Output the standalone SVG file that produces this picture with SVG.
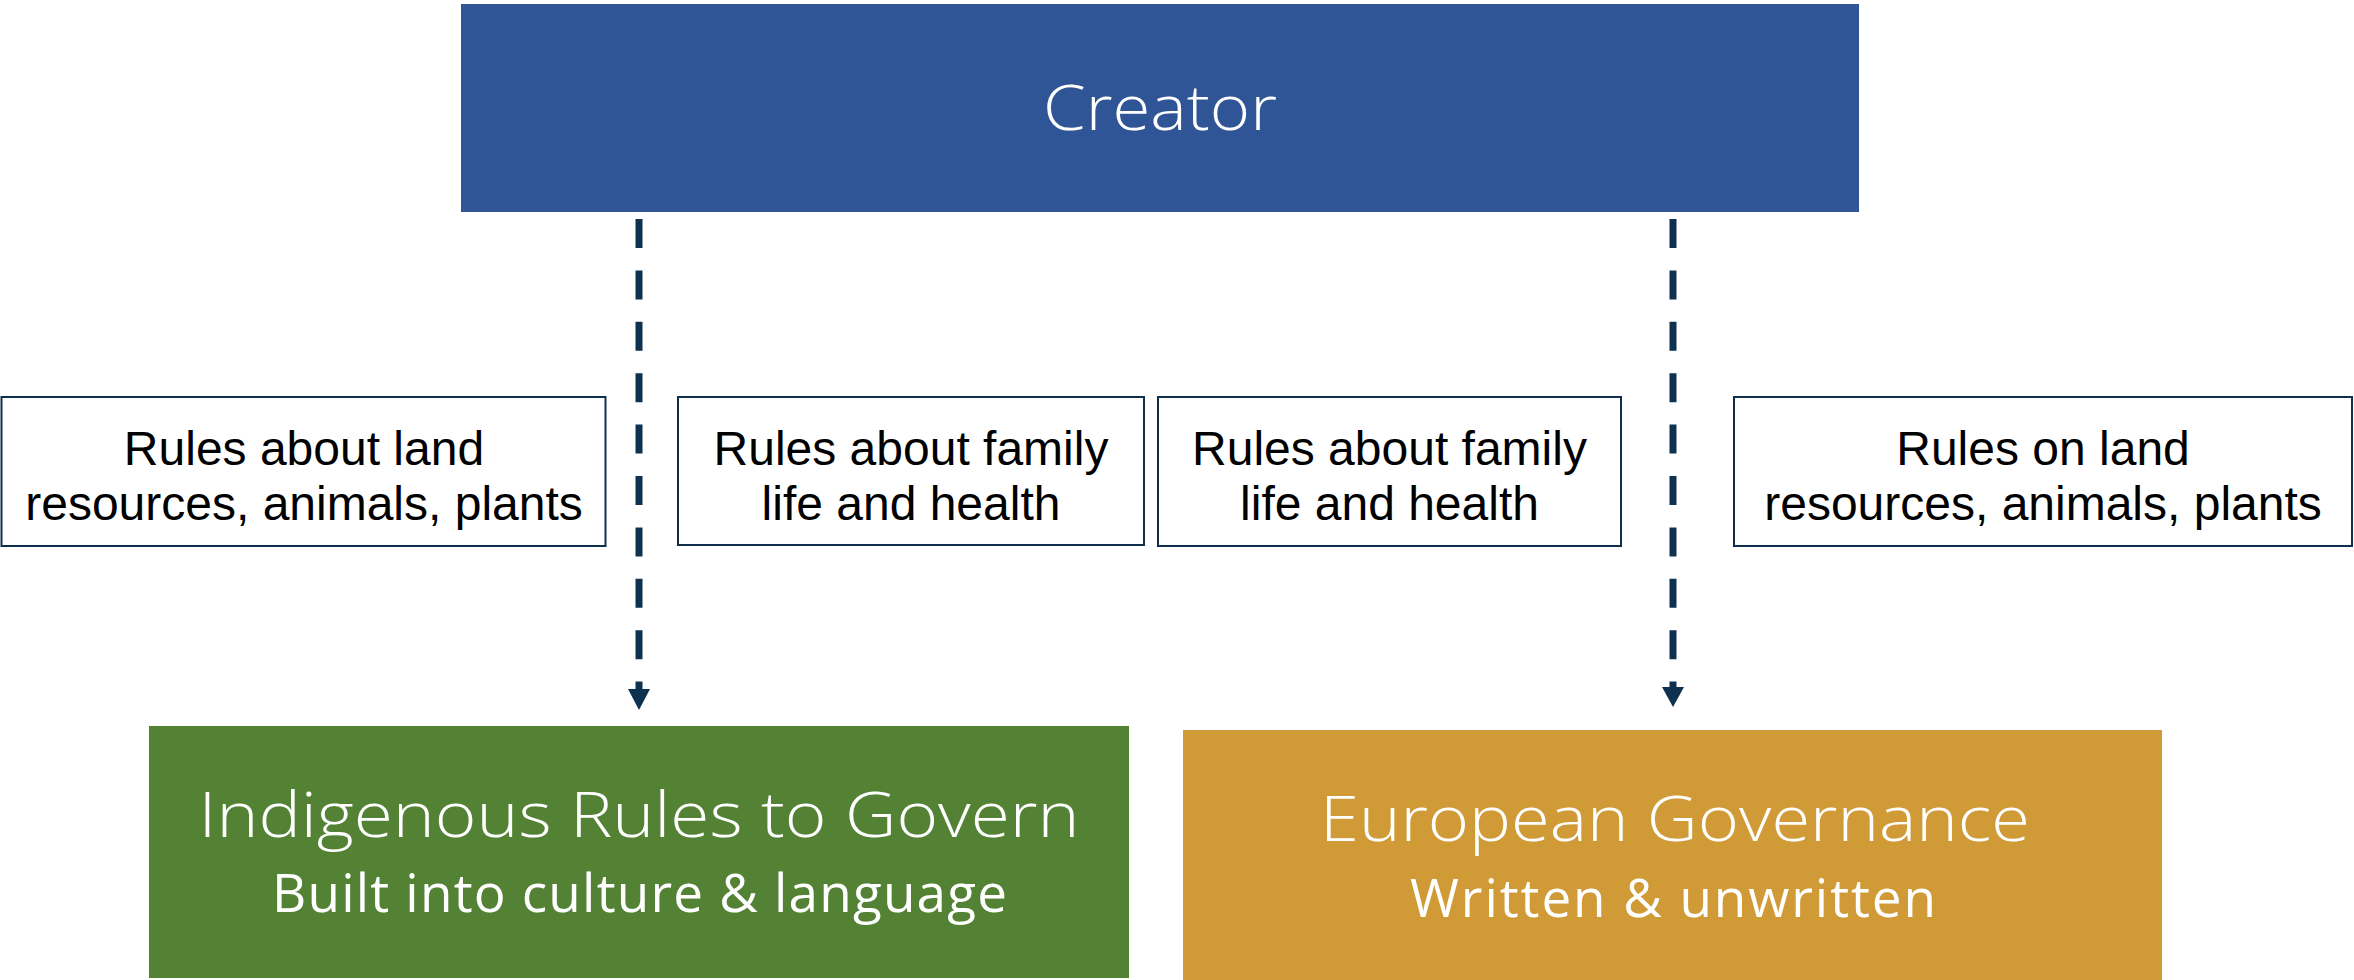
<svg xmlns="http://www.w3.org/2000/svg" width="2354" height="980" viewBox="0 0 2354 980">
<style>
.head{font-family:"Open Sans","Liberation Sans",sans-serif;font-weight:300;fill:#fff;text-anchor:middle}
.sub{font-family:"Open Sans","Liberation Sans",sans-serif;font-weight:400;fill:#fff;text-anchor:middle}
.rule{fill:#fff;stroke:#0f2f4f;stroke-width:2}
.rt{font-family:"Liberation Sans",Arial,sans-serif;font-size:48px;fill:#000;text-anchor:middle}
.dash{stroke:#0f3150;stroke-width:7;stroke-dasharray:29 22.4;fill:none}
.ah{fill:#0f3150}
</style>
<rect width="2354" height="980" fill="#fff"/>
<g id="creator">
<rect x="461" y="4" width="1398" height="208" fill="#2f5597"/>
<text class="head" x="1160" y="130" font-size="63" textLength="234" lengthAdjust="spacingAndGlyphs">Creator</text>
</g>
<g id="rules-land-indigenous">
<rect class="rule" x="1.5" y="397" width="604" height="149"/>
<text class="rt" x="304" y="465">Rules about land</text>
<text class="rt" x="304" y="520">resources, animals, plants</text>
</g>
<g id="rules-family-indigenous">
<rect class="rule" x="678" y="397" width="466" height="148"/>
<text class="rt" x="911" y="465">Rules about family</text>
<text class="rt" x="911" y="520">life and health</text>
</g>
<g id="rules-family-european">
<rect class="rule" x="1158" y="397" width="463" height="149"/>
<text class="rt" x="1389.5" y="465">Rules about family</text>
<text class="rt" x="1389.5" y="520">life and health</text>
</g>
<g id="rules-land-european">
<rect class="rule" x="1734" y="397" width="618" height="149"/>
<text class="rt" x="2043" y="465">Rules on land</text>
<text class="rt" x="2043" y="520">resources, animals, plants</text>
</g>
<g id="indigenous">
<rect x="149" y="726" width="980" height="252" fill="#548235"/>
<text class="head" x="639" y="837" font-size="63" textLength="881" lengthAdjust="spacingAndGlyphs">Indigenous Rules to Govern</text>
<text class="sub" x="639.5" y="912" font-size="53" textLength="735">Built into culture &amp; language</text>
</g>
<g id="european">
<rect x="1183" y="730" width="979" height="250" fill="#d09a36"/>
<text class="head" x="1675" y="841" font-size="63" textLength="710" lengthAdjust="spacingAndGlyphs">European Governance</text>
<text class="sub" x="1673" y="917" font-size="53" textLength="526">Written &amp; unwritten</text>
</g>
<g id="connectors">
<line class="dash" x1="639" y1="219" x2="639" y2="689"/>
<polygon class="ah" points="628,689 650,689 639,710"/>
<line class="dash" x1="1673" y1="219" x2="1673" y2="687"/>
<polygon class="ah" points="1662,687 1684,687 1673,707"/>
</g>
</svg>
